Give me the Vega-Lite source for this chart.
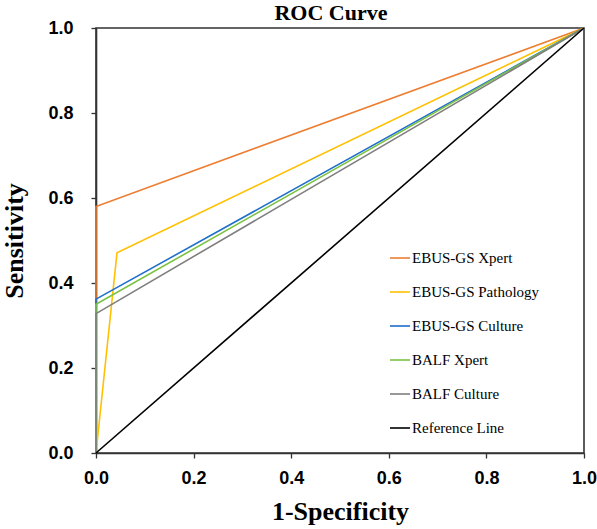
{
  "$schema": "https://vega.github.io/schema/vega-lite/v6.json",
  "width": 488,
  "height": 425,
  "autosize": {"type": "none"},
  "padding": {"left": 96, "top": 28, "right": 13, "bottom": 76},
  "background": "white",
  "title": {
    "text": "ROC Curve",
    "font": "Liberation Serif",
    "fontSize": 22,
    "fontWeight": "bold",
    "color": "black",
    "anchor": "middle",
    "baseline": "alphabetic",
    "offset": 0,
    "dy": 23,
    "dx": -9
  },
  "data": {
    "values": [
      {"test": "EBUS-GS Xpert", "step": 0, "fpr": 0, "tpr": 0},
      {"test": "EBUS-GS Xpert", "step": 1, "fpr": 0, "tpr": 0.58},
      {"test": "EBUS-GS Xpert", "step": 2, "fpr": 1, "tpr": 1},
      {"test": "EBUS-GS Pathology", "step": 0, "fpr": 0, "tpr": 0},
      {"test": "EBUS-GS Pathology", "step": 1, "fpr": 0.043, "tpr": 0.471},
      {"test": "EBUS-GS Pathology", "step": 2, "fpr": 1, "tpr": 1},
      {"test": "EBUS-GS Culture", "step": 0, "fpr": 0, "tpr": 0},
      {"test": "EBUS-GS Culture", "step": 1, "fpr": 0, "tpr": 0.362},
      {"test": "EBUS-GS Culture", "step": 2, "fpr": 1, "tpr": 1},
      {"test": "BALF Xpert", "step": 0, "fpr": 0, "tpr": 0},
      {"test": "BALF Xpert", "step": 1, "fpr": 0, "tpr": 0.35},
      {"test": "BALF Xpert", "step": 2, "fpr": 1, "tpr": 1},
      {"test": "BALF Culture", "step": 0, "fpr": 0, "tpr": 0},
      {"test": "BALF Culture", "step": 1, "fpr": 0, "tpr": 0.328},
      {"test": "BALF Culture", "step": 2, "fpr": 1, "tpr": 1},
      {"test": "Reference Line", "step": 0, "fpr": 0, "tpr": 0},
      {"test": "Reference Line", "step": 1, "fpr": 1, "tpr": 1}
    ]
  },
  "mark": {"type": "line", "strokeWidth": 1.6, "clip": false},
  "encoding": {
    "x": {
      "field": "fpr",
      "type": "quantitative",
      "scale": {"domain": [0, 1], "nice": false, "zero": false},
      "axis": {
        "title": "1-Specificity",
        "values": [0, 0.2, 0.4, 0.6, 0.8, 1.0],
        "format": ".1f",
        "grid": false,
        "domainColor": "#333333",
        "domainWidth": 1.6,
        "tickColor": "#333333",
        "tickWidth": 1.3,
        "tickSize": 5,
        "labelFont": "Liberation Sans",
        "labelFontSize": 18,
        "labelFontWeight": "bold",
        "labelColor": "black",
        "labelPadding": 11,
        "labelFlush": false,
        "titleFont": "Liberation Serif",
        "titleFontSize": 26,
        "titleFontWeight": "bold",
        "titleColor": "black",
        "titlePadding": 11
      }
    },
    "y": {
      "field": "tpr",
      "type": "quantitative",
      "scale": {"domain": [0, 1], "nice": false, "zero": false},
      "axis": {
        "title": "Sensitivity",
        "values": [0, 0.2, 0.4, 0.6, 0.8, 1.0],
        "format": ".1f",
        "grid": false,
        "domainColor": "#333333",
        "domainWidth": 1.6,
        "tickColor": "#333333",
        "tickWidth": 1.3,
        "tickSize": 5,
        "labelFont": "Liberation Sans",
        "labelFontSize": 18,
        "labelFontWeight": "bold",
        "labelColor": "black",
        "labelPadding": 18,
        "labelFlush": false,
        "titleFont": "Liberation Serif",
        "titleFontSize": 26,
        "titleFontWeight": "bold",
        "titleColor": "black",
        "titlePadding": 20
      }
    },
    "order": {"field": "step", "type": "quantitative"},
    "color": {
      "field": "test",
      "type": "nominal",
      "scale": {
        "domain": ["EBUS-GS Xpert", "EBUS-GS Pathology", "EBUS-GS Culture", "BALF Xpert", "BALF Culture", "Reference Line"],
        "range": ["#ED7D31", "#FFC000", "#1F6FCC", "#7CC242", "#7F7F7F", "#000000"]
      },
      "legend": {
        "title": null,
        "orient": "none",
        "legendX": 293,
        "legendY": 219,
        "symbolType": "stroke",
        "symbolSize": 400,
        "symbolStrokeWidth": 1.6,
        "labelFont": "Liberation Serif",
        "labelFontSize": 15,
        "labelColor": "black",
        "labelOffset": 1,
        "rowPadding": 15,
        "labelLimit": 300
      }
    }
  },
  "config": {
    "view": {"stroke": "#333333", "strokeWidth": 1.6}
  }
}
